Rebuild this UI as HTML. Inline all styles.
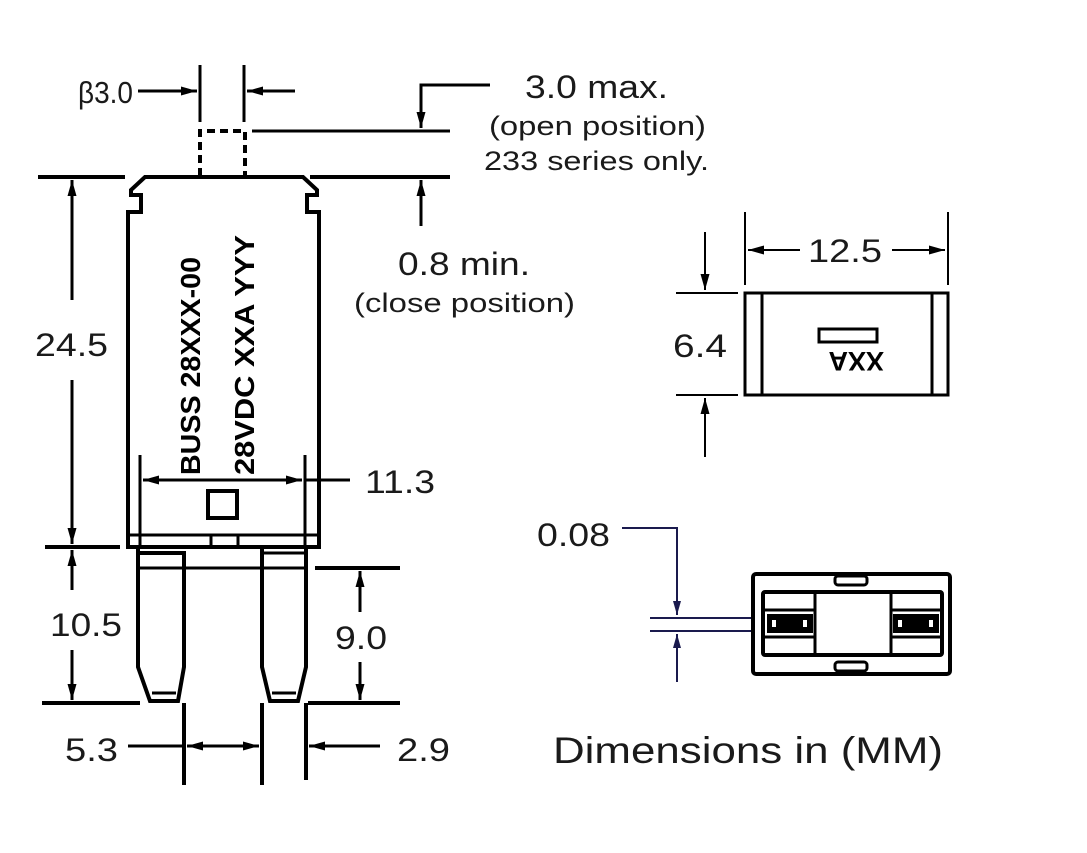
<!DOCTYPE html>
<html><head><meta charset="utf-8"><style>
html,body{margin:0;padding:0;background:#fff;}
svg{display:block;}
text{font-family:"Liberation Sans",sans-serif;fill:#1a1a1a;}
</style></head><body>
<svg width="1087" height="853" viewBox="0 0 1087 853" xmlns="http://www.w3.org/2000/svg">
<defs>
<marker id="a" markerWidth="16" markerHeight="9" refX="16" refY="4.5" orient="auto" markerUnits="userSpaceOnUse">
<path d="M0,0 L16,4.5 L0,9 Z" fill="#000"/></marker>
<marker id="b" markerWidth="14" markerHeight="8" refX="14" refY="4" orient="auto" markerUnits="userSpaceOnUse">
<path d="M0,0 L14,4 L0,8 Z" fill="#1a1a4e"/></marker>
</defs>
<g stroke="#000" stroke-width="4" fill="none">
<path d="M145,177 L131,190 L131,195 L141,195 L141,212 L128,212 L128,547 L319,547 L319,212 L307,212 L307,195 L317,195 L317,190 L303,177 Z"/>
<line x1="38" y1="177" x2="125" y2="177"/>
<line x1="310" y1="177" x2="450" y2="177"/>
<path d="M200,176 L200,131 L245,131 L245,176" stroke-dasharray="8,5"/>
<line x1="252" y1="131" x2="450" y2="131" stroke-width="3"/>
<line x1="200" y1="65" x2="200" y2="122" stroke-width="3"/>
<line x1="244" y1="65" x2="244" y2="122" stroke-width="3"/>
<line x1="138" y1="91" x2="197" y2="91" stroke-width="3" marker-end="url(#a)"/>
<line x1="295" y1="91" x2="247" y2="91" stroke-width="3" marker-end="url(#a)"/>
<path d="M490,85 L421,85 L421,128" stroke-width="3" marker-end="url(#a)"/>
<line x1="421" y1="226" x2="421" y2="180" stroke-width="3" marker-end="url(#a)"/>
<line x1="72" y1="300" x2="72" y2="180" stroke-width="3" marker-end="url(#a)"/>
<line x1="72" y1="380" x2="72" y2="544" stroke-width="3" marker-end="url(#a)"/>
<line x1="45" y1="547" x2="120" y2="547"/>
<line x1="140" y1="455" x2="140" y2="547" stroke-width="3"/>
<line x1="305" y1="455" x2="305" y2="547" stroke-width="3"/>
<line x1="222" y1="480" x2="143" y2="480" stroke-width="3" marker-end="url(#a)"/>
<line x1="222" y1="480" x2="302" y2="480" stroke-width="3" marker-end="url(#a)"/>
<line x1="305" y1="480" x2="350" y2="480" stroke-width="3"/>
<rect x="208" y="491" width="29" height="27"/>
<line x1="130" y1="535" x2="318" y2="535" stroke-width="3"/>
<line x1="211" y1="535" x2="211" y2="547" stroke-width="3"/>
<line x1="238" y1="535" x2="238" y2="547" stroke-width="3"/>
<path d="M138,547 L138,667 L150,701 L178,701 L184,667 L184,553 L140,553" stroke-width="4"/>
<path d="M262,547 L262,667 L270,701 L298,701 L306,667 L306,547" stroke-width="4"/>
<line x1="262" y1="553" x2="306" y2="553" stroke-width="3"/>
<line x1="140" y1="568" x2="306" y2="568" stroke-width="3"/>
<line x1="152" y1="693" x2="176" y2="693" stroke-width="3"/>
<line x1="272" y1="693" x2="296" y2="693" stroke-width="3"/>
<line x1="315" y1="568" x2="400" y2="568"/>
<line x1="42" y1="703" x2="140" y2="703"/>
<line x1="308" y1="703" x2="400" y2="703"/>
<line x1="72" y1="590" x2="72" y2="550" stroke-width="3" marker-end="url(#a)"/>
<line x1="72" y1="650" x2="72" y2="700" stroke-width="3" marker-end="url(#a)"/>
<line x1="360" y1="612" x2="360" y2="571" stroke-width="3" marker-end="url(#a)"/>
<line x1="360" y1="662" x2="360" y2="700" stroke-width="3" marker-end="url(#a)"/>
<line x1="184" y1="703" x2="184" y2="785" stroke-width="4"/>
<line x1="262" y1="703" x2="262" y2="785" stroke-width="4"/>
<line x1="306" y1="703" x2="306" y2="780" stroke-width="4"/>
<line x1="128" y1="746" x2="184" y2="746" stroke-width="3"/>
<line x1="222" y1="746" x2="187" y2="746" stroke-width="3" marker-end="url(#a)"/>
<line x1="222" y1="746" x2="259" y2="746" stroke-width="3" marker-end="url(#a)"/>
<line x1="380" y1="746" x2="309" y2="746" stroke-width="3" marker-end="url(#a)"/>
</g>
<g lengthAdjust="spacingAndGlyphs">
<text x="78" y="103" font-size="31" textLength="55" lengthAdjust="spacingAndGlyphs">β3.0</text>
<text x="525" y="98" font-size="32" textLength="143" lengthAdjust="spacingAndGlyphs">3.0 max.</text>
<text x="489" y="135" font-size="27" textLength="217" lengthAdjust="spacingAndGlyphs">(open position)</text>
<text x="484" y="170" font-size="27" textLength="225" lengthAdjust="spacingAndGlyphs">233 series only.</text>
<text x="398" y="275" font-size="32" textLength="132" lengthAdjust="spacingAndGlyphs">0.8 min.</text>
<text x="354" y="312" font-size="27" textLength="221" lengthAdjust="spacingAndGlyphs">(close position)</text>
<text x="35" y="356" font-size="32" textLength="73" lengthAdjust="spacingAndGlyphs">24.5</text>
<text x="365" y="493" font-size="32" textLength="70" lengthAdjust="spacingAndGlyphs">11.3</text>
<text x="50" y="636" font-size="32" textLength="72" lengthAdjust="spacingAndGlyphs">10.5</text>
<text x="335" y="649" font-size="32" textLength="52" lengthAdjust="spacingAndGlyphs">9.0</text>
<text x="65" y="761" font-size="32" textLength="53" lengthAdjust="spacingAndGlyphs">5.3</text>
<text x="397" y="761" font-size="32" textLength="53" lengthAdjust="spacingAndGlyphs">2.9</text>
<text x="808" y="262" font-size="32" textLength="74" lengthAdjust="spacingAndGlyphs">12.5</text>
<text x="673" y="357" font-size="32" textLength="54" lengthAdjust="spacingAndGlyphs">6.4</text>
<text x="537" y="546" font-size="32" textLength="73" lengthAdjust="spacingAndGlyphs">0.08</text>
<text x="553" y="763" font-size="37" textLength="390" lengthAdjust="spacingAndGlyphs">Dimensions in (MM)</text>
</g>
<text transform="translate(200,475) rotate(-90)" font-size="28" font-weight="bold" style="fill:#000" textLength="218" lengthAdjust="spacingAndGlyphs">BUSS 28XXX-00</text>
<text transform="translate(254,475) rotate(-90)" font-size="28" font-weight="bold" style="fill:#000" textLength="240" lengthAdjust="spacingAndGlyphs">28VDC XXA YYY</text>
<g stroke="#000" stroke-width="3" fill="none">
<rect x="745" y="293" width="203" height="102"/>
<line x1="762" y1="293" x2="762" y2="395"/>
<line x1="932" y1="293" x2="932" y2="395"/>
<rect x="819" y="329" width="58" height="13"/>
<line x1="745" y1="212" x2="745" y2="285" stroke-width="2"/>
<line x1="948" y1="212" x2="948" y2="285" stroke-width="2"/>
<line x1="800" y1="250" x2="748" y2="250" stroke-width="2" marker-end="url(#a)"/>
<line x1="892" y1="250" x2="945" y2="250" stroke-width="2" marker-end="url(#a)"/>
<line x1="676" y1="293" x2="738" y2="293" stroke-width="2"/>
<line x1="676" y1="395" x2="738" y2="395" stroke-width="2"/>
<line x1="705" y1="232" x2="705" y2="290" stroke-width="2" marker-end="url(#a)"/>
<line x1="705" y1="457" x2="705" y2="398" stroke-width="2" marker-end="url(#a)"/>
</g>
<text transform="translate(884,352) rotate(180)" font-size="27" font-weight="bold" style="fill:#000">XXA</text>
<g stroke="#1a1a4e" stroke-width="2" fill="none">
<path d="M622,528 L677,528 L677,615" marker-end="url(#b)"/>
<line x1="677" y1="682" x2="677" y2="634" marker-end="url(#b)"/>
<line x1="650" y1="618" x2="752" y2="618"/>
<line x1="650" y1="631" x2="752" y2="631"/>
</g>
<g stroke="#000" fill="none">
<rect x="753" y="574" width="197" height="100" rx="3" stroke-width="4"/>
<rect x="763" y="592" width="179" height="63" rx="2" stroke-width="4"/>
<rect x="835" y="576" width="32" height="9" rx="3" stroke-width="3"/>
<rect x="835" y="662" width="32" height="9" rx="3" stroke-width="3"/>
<line x1="815" y1="592" x2="815" y2="655" stroke-width="3"/>
<line x1="891" y1="592" x2="891" y2="655" stroke-width="3"/>
<line x1="765" y1="610" x2="815" y2="610" stroke-width="3"/>
<line x1="765" y1="637" x2="815" y2="637" stroke-width="3"/>
<line x1="891" y1="610" x2="942" y2="610" stroke-width="3"/>
<line x1="891" y1="637" x2="942" y2="637" stroke-width="3"/>
</g>
<rect x="767" y="614" width="46" height="19" fill="#000"/>
<rect x="893" y="614" width="46" height="19" fill="#000"/>
<rect x="772" y="620" width="4" height="7" fill="#fff"/>
<rect x="803" y="620" width="4" height="7" fill="#fff"/>
<rect x="898" y="620" width="4" height="7" fill="#fff"/>
<rect x="929" y="620" width="4" height="7" fill="#fff"/>
</svg>
</body></html>
